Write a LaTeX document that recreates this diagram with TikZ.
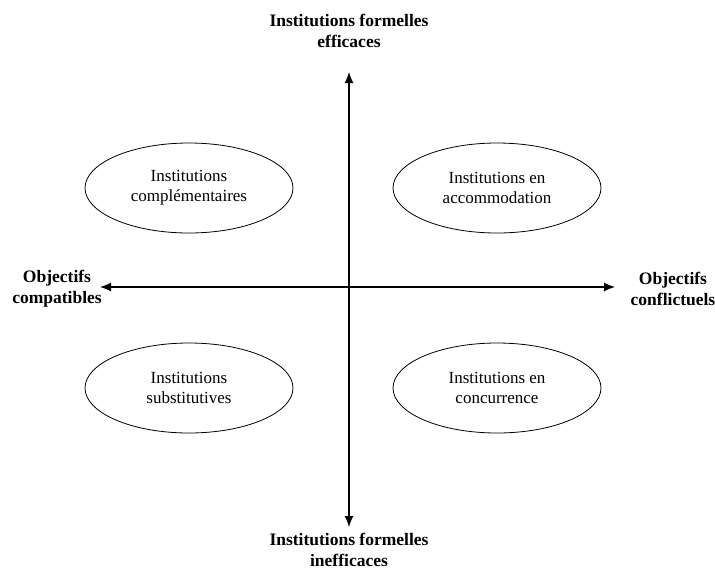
\documentclass[tikz,border=0pt]{standalone}
\usepackage{fontspec}
\setmainfont{Liberation Serif}
\usepackage{tikz}
\usetikzlibrary{shapes.geometric,arrows.meta}

\begin{document}
\begin{tikzpicture}[x=1pt,y=-1pt]
\tikzstyle{quadrant}=[ellipse,draw,line width=0.8pt,minimum width=208pt,minimum height=90pt,inner sep=0pt,align=center,font=\fontsize{17}{20}\selectfont]
\tikzstyle{pole}=[align=center,inner sep=0pt,font=\bfseries\fontsize{17.5}{21}\selectfont]
\tikzstyle{axis}=[line width=1.2pt,{Latex[length=11pt,width=9pt]}-{Latex[length=11pt,width=9pt]}]
\useasboundingbox (0,0) rectangle (715,574);
% quadrants
\foreach \name/\point/\txt in {
	cmp/{189,188}/{Institutions\\complémentaires},
	acc/{497,188}/{Institutions en\\accommodation},
	sub/{189,388}/{Institutions\\substitutives},
	conc/{497,388}/{Institutions en\\concurrence}}
	\node[quadrant] (\name) at (\point) {\txt};
% poles
\node[pole] (eff) at (349,31) {Institutions formelles\\efficaces};
\node[pole] (ineff) at (349,550) {Institutions formelles\\inefficaces};
\node[pole] (compat) at (57,289) {Objectifs\\compatibles};
\node[pole] (confl) at (673,289) {Objectifs\\conflictuels};
% axes
\coordinate (n) at (349,72);
\coordinate (s) at (349,527);
\coordinate (w) at (100,287);
\coordinate (e) at (615,287);
\draw[axis] (s) -- (n);
\draw[axis] (w) -- (e);
\end{tikzpicture}
\end{document}
